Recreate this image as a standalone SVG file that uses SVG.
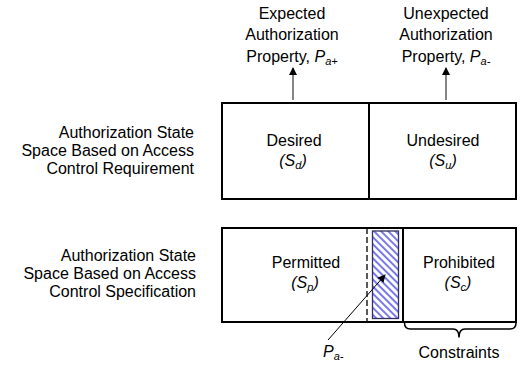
<svg xmlns="http://www.w3.org/2000/svg" width="520" height="367" viewBox="0 0 520 367">
  <style>
    text { font-family: "Liberation Sans", Arial, sans-serif; font-size: 16px; fill: #000; }
    .mid { text-anchor: middle; }
    .end { text-anchor: end; }
    .it { font-style: italic; }
    .sub { font-size: 11px; font-style: italic; }
    .box { fill: #fff; stroke: #000; stroke-width: 2; }
    .div { stroke: #000; stroke-width: 2; fill: none; }
    .conn { stroke: #444; stroke-width: 1.3; fill: none; }
  </style>
  <defs>
    <marker id="arrow" markerWidth="8" markerHeight="8" refX="7" refY="4" orient="auto" markerUnits="userSpaceOnUse">
      <path d="M0,0 L8,4 L0,8 Z" fill="#000"/>
    </marker>
    <pattern id="hatch" width="5" height="5" patternUnits="userSpaceOnUse" patternTransform="rotate(-45)">
      <line x1="1" y1="0" x2="1" y2="5" stroke="#2020e0" stroke-width="1.2"/>
    </pattern>
  </defs>

  <!-- property labels above the requirement space -->
  <g id="label-expected">
    <text class="mid" x="292" y="19">Expected</text>
    <text class="mid" x="292" y="40">Authorization</text>
    <text class="mid" x="292" y="62">Property, <tspan class="it">P</tspan><tspan class="sub" dy="3">a+</tspan></text>
  </g>
  <g id="label-unexpected">
    <text class="mid" x="446" y="19">Unexpected</text>
    <text class="mid" x="446" y="40">Authorization</text>
    <text class="mid" x="446" y="62">Property, <tspan class="it">P</tspan><tspan class="sub" dy="3">a-</tspan></text>
  </g>

  <!-- row captions -->
  <g id="label-requirement">
    <text class="end" x="194" y="138">Authorization State</text>
    <text class="end" x="194" y="156">Space Based on Access</text>
    <text class="end" x="194" y="174">Control Requirement</text>
  </g>
  <g id="label-specification">
    <text class="end" x="196" y="261">Authorization State</text>
    <text class="end" x="196" y="279">Space Based on Access</text>
    <text class="end" x="196" y="297">Control Specification</text>
  </g>

  <!-- requirement state space -->
  <g id="requirement-space">
    <rect class="box" x="222" y="103" width="294" height="96"/>
    <line class="div" x1="369" y1="103" x2="369" y2="199"/>
  </g>
  <g id="desired">
    <text class="mid" x="294" y="146">Desired</text>
    <text class="mid it" x="293" y="166">(S<tspan class="sub" dy="3">d</tspan><tspan dy="-3">)</tspan></text>
  </g>
  <g id="undesired">
    <text class="mid" x="443" y="146">Undesired</text>
    <text class="mid it" x="443" y="166">(S<tspan class="sub" dy="3">u</tspan><tspan dy="-3">)</tspan></text>
  </g>

  <!-- specification state space -->
  <g id="specification-space">
    <rect class="box" x="222" y="228" width="294" height="94"/>
    <line class="div" x1="403" y1="228" x2="403" y2="322"/>
    <line x1="367" y1="228" x2="367" y2="322" stroke="#000" stroke-width="1.3" stroke-dasharray="6,3"/>
  </g>
  <g id="permitted">
    <text class="mid" x="306" y="268">Permitted</text>
    <text class="mid it" x="305" y="288">(S<tspan class="sub" dy="3">p</tspan><tspan dy="-3">)</tspan></text>
  </g>
  <g id="prohibited">
    <text class="mid" x="459" y="268">Prohibited</text>
    <text class="mid it" x="458" y="288">(S<tspan class="sub" dy="3">c</tspan><tspan dy="-3">)</tspan></text>
  </g>
  <g id="unexpected-region">
    <rect x="372.5" y="231" width="26" height="87.5" fill="url(#hatch)" stroke="#303060" stroke-width="1.3"/>
  </g>
  <g id="label-pa-minus">
    <text class="it" x="323" y="357">P<tspan class="sub" dy="3">a-</tspan></text>
  </g>
  <g id="constraints">
    <path d="M404.5,323 Q404.5,329 410.5,329 L453,329 Q459,329 459,337.5 Q459,329 465,329 L510,329 Q516,329 516,323" fill="none" stroke="#000" stroke-width="1.5"/>
    <text class="mid" x="459" y="358">Constraints</text>
  </g>

  <!-- connectors -->
  <g id="connectors">
    <line class="conn" x1="293" y1="100" x2="293" y2="68" marker-end="url(#arrow)"/>
    <line class="conn" x1="446" y1="100" x2="446" y2="68" marker-end="url(#arrow)"/>
    <line x1="328" y1="340" x2="385" y2="275" stroke="#000" stroke-width="1" marker-end="url(#arrow)"/>
  </g>
</svg>
